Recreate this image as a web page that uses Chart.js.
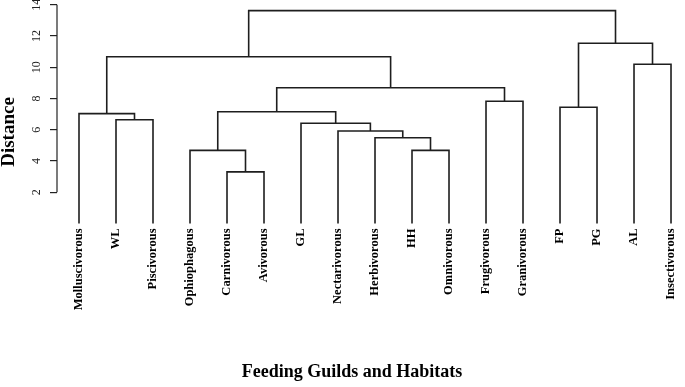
<!DOCTYPE html>
<html><head><meta charset="utf-8">
<script src="https://cdn.jsdelivr.net/npm/chart.js@4"></script>
<style>html,body{margin:0;padding:0;background:#fff}#wrap{width:685px;height:387px;position:relative}</style>
</head><body><div id="wrap"><canvas id="c"></canvas></div>
<script>
// Leaves in plotted order
const leafLabels = ["Molluscivorous","WL","Piscivorous","Ophiophagous","Carnivorous","Avivorous","GL","Nectarivorous","Herbivorous","HH","Omnivorous","Frugivorous","Granivorous","FP","PG","AL","Insectivorous"];
// Merge table (R hclust style: negative = leaf number, positive = earlier merge)
const mergeLeft   = [-5, -10, -4, -9, -8, -7, -2, -1, 3, -14, -12, 9, -16, 8, 10, 14];
const mergeRight  = [-6, -11, 1, 2, 4, 5, -3, 7, 6, -15, -13, 11, -17, 12, 13, 15];
const mergeHeight = [3.30, 4.68, 4.68, 5.49, 5.92, 6.41, 6.64, 7.03, 7.15, 7.44, 7.82, 8.69, 10.19, 10.67, 11.53, 13.62];
const yTicks = [2, 4, 6, 8, 10, 12, 14];
const leafBase = 0;

const nodes = [];
function node(id){ return id < 0 ? {x: -id - 1, y: leafBase} : nodes[id - 1]; }
const datasets = [];
for (let i = 0; i < mergeLeft.length; i++) {
  const a = node(mergeLeft[i]), b = node(mergeRight[i]), h = mergeHeight[i];
  nodes.push({x: (a.x + b.x) / 2, y: h});
  datasets.push({
    data: [{x: a.x, y: a.y}, {x: a.x, y: h}, {x: b.x, y: h}, {x: b.x, y: b.y}],
    showLine: true, pointRadius: 0, borderColor: '#1e1e1e', borderWidth: 1.6,
    fill: false, tension: 0, clip: false
  });
}

const axisLine = {
  id: 'axisLine',
  afterDraw(chart) {
    const s = chart.scales.y, ctx = chart.ctx;
    ctx.save();
    ctx.strokeStyle = '#222'; ctx.lineWidth = 1.2;
    ctx.beginPath();
    ctx.moveTo(s.right, s.getPixelForValue(yTicks[0]));
    ctx.lineTo(s.right, s.getPixelForValue(yTicks[yTicks.length - 1]));
    ctx.stroke();
    ctx.restore();
  }
};

const serif = 'Liberation Serif';
new Chart(document.getElementById('c'), {
  type: 'scatter',
  data: { datasets },
  plugins: [axisLine],
  options: {
    animation: false, responsive: true, maintainAspectRatio: false,
    layout: { autoPadding: false, padding: { left: 0, right: -19, top: -123, bottom: 0 } },
    plugins: {
      legend: { display: false }, tooltip: { enabled: false },
      title: { display: true, text: 'Distance', position: 'left',
        font: { family: serif, size: 19, weight: 'bold', lineHeight: 1 }, color: '#000', padding: { top: 0, bottom: 0 } },
      subtitle: { display: true, text: 'Feeding Guilds and Habitats', position: 'bottom',
        font: { family: serif, size: 18, weight: 'bold' }, color: '#000', padding: { top: 10, bottom: 4 } }
    },
    scales: {
      x: {
        type: 'linear', min: -0.5946, max: 16.378,
        afterBuildTicks: s => { s.ticks = leafLabels.map((_, i) => ({ value: i })); },
        afterFit: s => { s.height = 127.9; s.paddingLeft = 0; s.paddingRight = 0; },
        ticks: { autoSkip: false, minRotation: 90, maxRotation: 90, padding: 5,
          callback: v => leafLabels[Math.round(v)],
          font: { family: serif, size: 12.5, weight: 'bold' }, color: '#000' },
        grid: { display: false, drawTicks: false },
        border: { display: false }
      },
      y: {
        type: 'linear', min: 0, max: 14.30,
        afterBuildTicks: s => { s.ticks = yTicks.map(v => ({ value: v })); },
        afterFit: s => { s.width = 38; s.paddingTop = 0; s.paddingBottom = 0; },
        ticks: { minRotation: 90, maxRotation: 90, crossAlign: 'center', padding: 7,
          font: { family: serif, size: 12 }, color: '#222' },
        grid: { display: true, drawOnChartArea: false, drawTicks: true, tickLength: 7, color: '#222', lineWidth: 1.2 },
        border: { display: false }
      }
    }
  }
});
</script>
</body></html>
